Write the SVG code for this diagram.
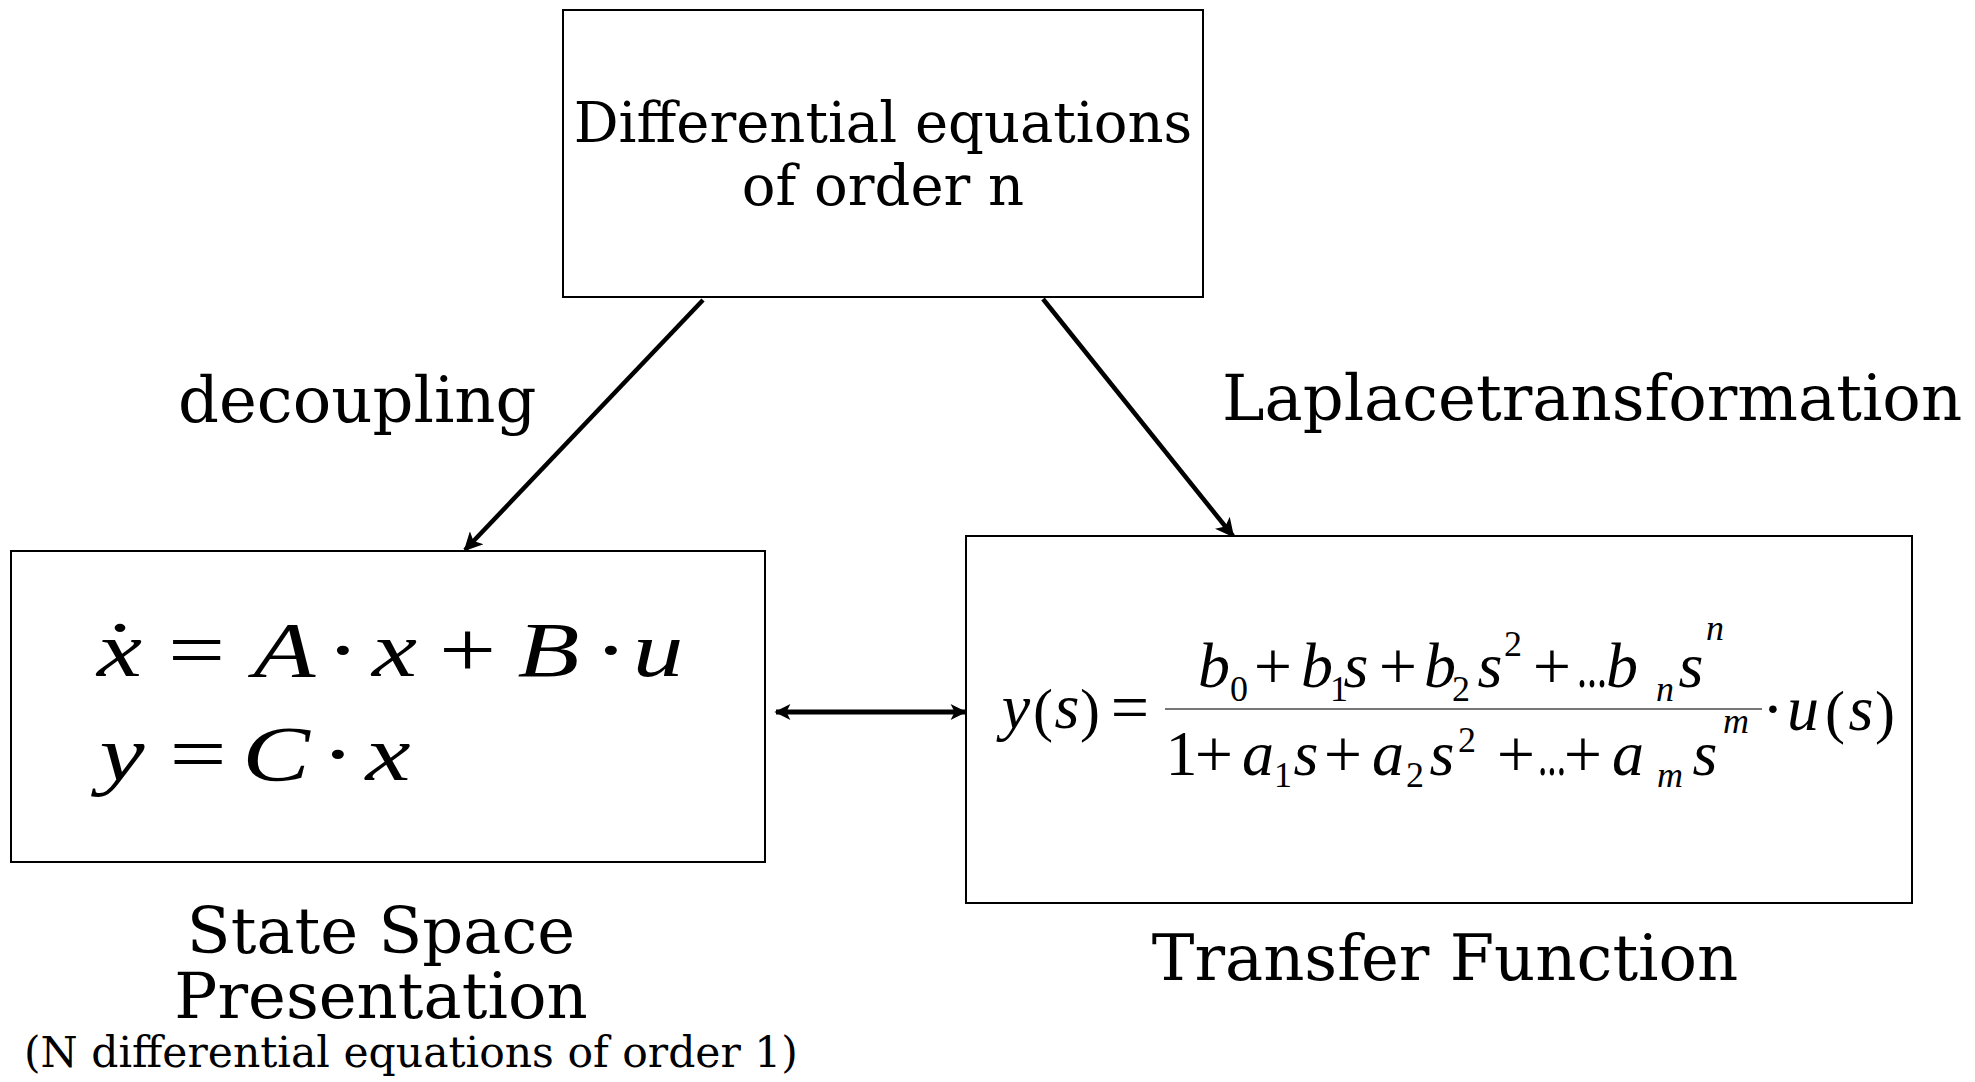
<svg xmlns="http://www.w3.org/2000/svg" width="1975" height="1082" viewBox="0 0 1975 1082">
<style>
.box{fill:#fff;stroke:#000;stroke-width:2}
.lbl{font-family:"DejaVu Serif",serif;fill:#000}
.m{font-family:"Liberation Serif","Times New Roman",serif;font-style:italic;fill:#000;text-anchor:middle}
.u{font-family:"Liberation Serif","Times New Roman",serif;fill:#000;text-anchor:middle}
.con{stroke:#000;stroke-width:4.5;fill:none}
.dbl{stroke:#000;stroke-width:5;fill:none}
.op{font-size:68px}
.pr{font-size:60px}
.sb{font-size:36px}
</style>
<defs>
<marker id="ah" viewBox="0 0 10 10" refX="9" refY="5" markerWidth="5" markerHeight="4.2" markerUnits="strokeWidth" orient="auto-start-reverse">
<path d="M0,0 L10,5 L0,10 L2.5,5 Z" fill="#000"/>
</marker>
<marker id="ah2" viewBox="0 0 10 10" refX="9" refY="5" markerWidth="3.4" markerHeight="3.2" markerUnits="strokeWidth" orient="auto-start-reverse">
<path d="M0,0 L10,5 L0,10 L2.5,5 Z" fill="#000"/>
</marker>
</defs>
<rect width="1975" height="1082" fill="#fff"/>

<g id="connectors">
<line class="con" x1="703" y1="300" x2="465" y2="550" marker-end="url(#ah)"/>
<line class="con" x1="1043" y1="299" x2="1233" y2="536" marker-end="url(#ah)"/>
<line class="dbl" x1="776" y1="712" x2="965" y2="712" marker-start="url(#ah2)" marker-end="url(#ah2)"/>
</g>

<g id="node-diff">
<rect class="box" x="563" y="10" width="640" height="287"/>
<text class="lbl" x="883" y="142" font-size="56" text-anchor="middle">Differential equations</text>
<text class="lbl" x="883" y="205" font-size="56" text-anchor="middle">of order n</text>
</g>

<g id="label-decoupling">
<text class="lbl" x="178" y="422" font-size="64">decoupling</text>
</g>
<g id="label-laplace">
<text class="lbl" x="1222" y="420" font-size="64">Laplacetransformation</text>
</g>

<g id="node-statespace">
<rect class="box" x="11" y="551" width="754" height="311"/>
<g font-size="78">
<text class="m" transform="translate(119.5,676) scale(1.3,1)">x</text>
<text class="u" transform="translate(120,676) scale(1.3,1)">˙</text>
<text class="u" transform="translate(196.5,676) scale(1.3,1)">=</text>
<text class="m" transform="translate(284.5,676) scale(1.3,1)">A</text>
<text class="u" transform="translate(343,676) scale(1.3,1)">·</text>
<text class="m" transform="translate(394.5,676) scale(1.3,1)">x</text>
<text class="u" transform="translate(467.5,676) scale(1.3,1)">+</text>
<text class="m" transform="translate(548.5,676) scale(1.3,1)">B</text>
<text class="u" transform="translate(611,676) scale(1.3,1)">·</text>
<text class="m" transform="translate(658,676) scale(1.3,1)">u</text>
<text class="m" transform="translate(122,780) scale(1.3,1)">y</text>
<text class="u" transform="translate(198,780) scale(1.3,1)">=</text>
<text class="m" transform="translate(276,780) scale(1.3,1)">C</text>
<text class="u" transform="translate(338,780) scale(1.3,1)">·</text>
<text class="m" transform="translate(388,780) scale(1.3,1)">x</text>
</g>
<text class="lbl" x="381" y="953" font-size="64" text-anchor="middle">State Space</text>
<text class="lbl" x="381" y="1018" font-size="64" text-anchor="middle">Presentation</text>
<text class="lbl" x="411" y="1067" font-size="42.5" text-anchor="middle">(N differential equations of order 1)</text>
</g>

<g id="node-transfer">
<rect class="box" x="966" y="536" width="946" height="367"/>
<g font-size="64">
<text class="m" x="1016" y="728">y</text>
<text class="u pr" x="1043" y="730">(</text>
<text class="m" x="1067" y="728">s</text>
<text class="u pr" x="1090" y="730">)</text>
<text class="u op" x="1130" y="730">=</text>
<line x1="1165" y1="709" x2="1762" y2="709" stroke="#777" stroke-width="2"/>
<text class="m" x="1214" y="687">b</text>
<text class="u sb" x="1239" y="701">0</text>
<text class="u op" x="1273" y="689">+</text>
<text class="m" x="1317" y="687">b</text>
<text class="u sb" x="1339" y="701">1</text>
<text class="m" x="1356" y="687">s</text>
<text class="u op" x="1398" y="689">+</text>
<text class="m" x="1440" y="687">b</text>
<text class="u sb" x="1461" y="701">2</text>
<text class="m" x="1490" y="687">s</text>
<text class="u sb" x="1513" y="656">2</text>
<text class="u op" x="1552" y="689">+</text>
<text class="u" x="1592" y="687" textLength="30" lengthAdjust="spacingAndGlyphs">...</text>
<text class="m" x="1622" y="687">b</text>
<text class="m sb" x="1665" y="701">n</text>
<text class="m" x="1691" y="687">s</text>
<text class="m sb" x="1715" y="640">n</text>
<text class="u" x="1181.5" y="775">1</text>
<text class="u op" x="1214" y="777">+</text>
<text class="m" x="1258" y="775">a</text>
<text class="u sb" x="1283" y="787">1</text>
<text class="m" x="1306" y="775">s</text>
<text class="u op" x="1343" y="777">+</text>
<text class="m" x="1388" y="775">a</text>
<text class="u sb" x="1415" y="787">2</text>
<text class="m" x="1442" y="775">s</text>
<text class="u sb" x="1467" y="752">2</text>
<text class="u op" x="1516" y="777">+</text>
<text class="u" x="1552" y="775" textLength="28" lengthAdjust="spacingAndGlyphs">...</text>
<text class="u op" x="1583" y="777">+</text>
<text class="m" x="1628" y="775">a</text>
<text class="m sb" x="1670" y="787">m</text>
<text class="m" x="1705" y="775">s</text>
<text class="m sb" x="1736" y="733">m</text>
<text class="u" x="1773" y="730">·</text>
<text class="m" x="1803" y="730">u</text>
<text class="u pr" x="1835" y="732">(</text>
<text class="m" x="1861" y="730">s</text>
<text class="u pr" x="1885" y="732">)</text>
</g>
<text class="lbl" x="1445" y="980" font-size="64" text-anchor="middle">Transfer Function</text>
</g>
</svg>
